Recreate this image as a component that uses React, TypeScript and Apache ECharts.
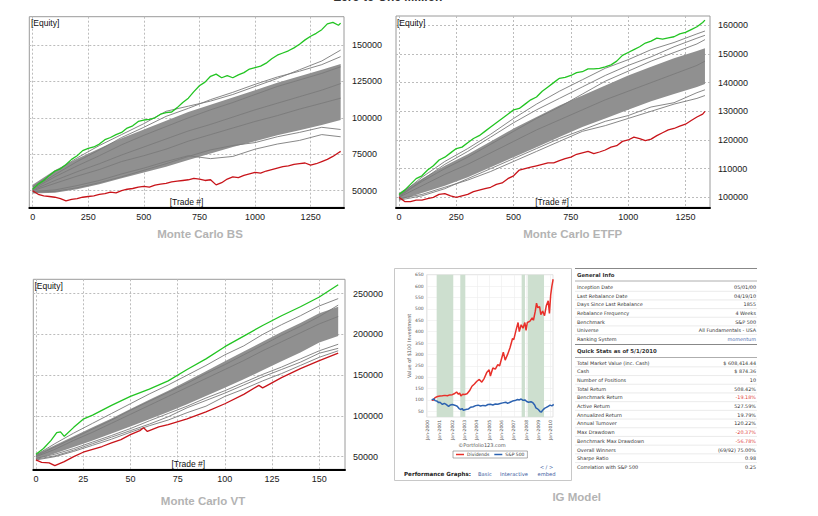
import React, { useEffect, useRef } from 'react';
import * as echarts from 'echarts';

// ---------------- text ----------------
const pageTitle = 'Zero to One Million';
const panelTitles = ['Monte Carlo BS', 'Monte Carlo ETFP', 'Monte Carlo VT', 'IG Model'];

// ---------------- Monte Carlo BS ----------------
const bsLineX = [0, 25, 50, 75, 100, 125, 150, 175, 200, 225, 250, 275, 300, 325, 350, 375, 400, 425, 450, 475, 500, 525, 550, 575, 600, 625, 650, 675, 700, 725, 750, 775, 800, 825, 850, 875, 900, 925, 950, 975, 1000, 1025, 1050, 1075, 1100, 1125, 1150, 1175, 1200, 1225, 1250, 1275, 1300, 1325, 1350, 1375, 1385];
const bsGreen = [51000, 54500, 57000, 60500, 63500, 65000, 68000, 71500, 74000, 77500,
  79000, 80000, 82000, 85000, 86500, 88500, 90000, 93000, 94500, 97500,
  98500, 99000, 100000, 102500, 103500, 104000, 107000, 110500, 113500, 118000,
  122000, 124500, 128500, 130000, 127500, 129000, 127500, 129500, 131000, 133500,
  134500, 135500, 137500, 140500, 143000, 144500, 146000, 148000, 150500, 153500,
  156000, 158000, 160500, 164500, 165500, 163500, 165000];
const bsRed = [50000, 47500, 46500, 46000, 45500, 44500, 43000, 44000, 44500, 45500,
  46000, 46500, 47500, 48000, 49000, 48500, 50000, 51000, 51500, 52500,
  53000, 52500, 53800, 54500, 55000, 56000, 56500, 57000, 57500, 58500,
  58000, 57000, 57500, 54000, 55500, 58000, 59500, 59000, 60500, 61500,
  62500, 62000, 63500, 64500, 65500, 66500, 67000, 68000, 68500, 69000,
  67500, 68500, 70000, 71500, 73500, 76000, 77000];
const bsBandX = [0, 100, 200, 300, 400, 500, 600, 700, 800, 900, 1000, 1100, 1200, 1300, 1385];
const bsHigh = [54000, 64000, 72000, 79000, 86000, 92000, 98000, 104000, 109000, 114000, 119000, 124000, 128500, 133000, 137000];
const bsLow = [48000, 48500, 51000, 54500, 58500, 62500, 66500, 71000, 75500, 80000, 84000, 88000, 91500, 95000, 98500];
const bsGray1 = [52500, 63000, 72500, 81000, 88500, 96000, 104500, 108000, 111500, 116000, 121500, 127000, 133000, 139000, 146500];
const bsGray2 = [51500, 61000, 70000, 78000, 86500, 93500, 101000, 106500, 112500, 117500, 123000, 128000, 132000, 136500, 142000];
const bsGray3 = [49500, 50500, 53500, 57000, 61500, 65500, 70000, 74000, 72000, 73500, 78500, 82000, 84500, 88500, 87000];
const bsGray4 = [49000, 49500, 52000, 55500, 59500, 64000, 68500, 73500, 78000, 81000, 83000, 87000, 90000, 93500, 92000];
const bsGray5 = [50500, 57000, 63000, 68500, 74500, 80000, 85500, 91000, 95500, 100500, 105500, 110000, 114500, 119000, 123500];
const bsGray6 = [50000, 55000, 60000, 64500, 70000, 74000, 78500, 84000, 88500, 93000, 97500, 101500, 106000, 110000, 113500];
const bsGray7 = [51000, 59500, 67000, 74000, 81500, 88000, 94000, 100000, 105500, 110500, 116000, 121500, 126000, 130500, 135000];

// ---------------- Monte Carlo ETFP ----------------
const etLineX = [0, 25, 50, 75, 100, 125, 150, 175, 200, 225, 250, 275, 300, 325, 350, 375, 400, 425, 450, 475, 500, 525, 550, 575, 600, 625, 650, 675, 700, 725, 750, 775, 800, 825, 850, 875, 900, 925, 950, 975, 1000, 1025, 1050, 1075, 1100, 1125, 1150, 1175, 1200, 1225, 1250, 1275, 1300, 1325, 1335];
const etGreen = [101000, 102500, 104500, 106500, 107500, 109500, 111000, 113000, 114000, 115500,
  117000, 117500, 119000, 120500, 121500, 123000, 124500, 126000, 127500, 129000,
  130500, 131000, 132500, 134000, 135000, 137000, 138500, 140000, 141500, 141800,
  142500, 143500, 143800, 144800, 144800, 145000, 145500, 146200, 147500, 149500,
  150500, 151500, 152500, 153800, 154500, 155500, 155200, 155600, 156000, 157000,
  157500, 158500, 159500, 161000, 161800];
const etRed = [100000, 98500, 98500, 99000, 99000, 99500, 100000, 101000, 101300, 100500,
  100000, 100500, 101000, 102000, 102500, 103000, 103500, 104500, 105000, 106500,
  107500, 109500, 110000, 110500, 111000, 111500, 112000, 112000, 112800, 113500,
  114000, 115000, 115500, 116000, 115200, 115800, 116500, 117500, 118000, 119500,
  120000, 121000, 120500, 119800, 120300, 121500, 122500, 123500, 124000, 124800,
  125500, 126800, 128000, 129000, 130000];
const etBandX = [0, 100, 200, 300, 400, 500, 600, 700, 800, 900, 1000, 1100, 1200, 1300, 1335];
const etHigh = [101500, 106500, 111000, 115000, 119500, 124000, 128000, 132000, 135500, 139000, 142500, 145500, 148500, 151000, 152000];
const etLow = [99000, 101500, 104000, 107000, 110500, 114000, 117500, 121000, 124500, 127500, 130500, 133500, 136000, 138500, 139500];
const etGray1 = [100500, 107000, 112500, 117000, 122000, 127500, 132500, 137000, 141000, 145000, 148000, 151500, 154000, 157000, 158000];
const etGray2 = [100000, 106000, 111500, 116000, 121000, 126000, 130500, 134500, 138500, 142500, 146000, 149000, 152500, 155500, 156500];
const etGray3 = [99500, 101000, 103500, 106000, 109000, 112500, 116000, 119500, 123000, 125000, 127500, 130000, 132500, 134500, 135500];
const etGray4 = [99000, 100500, 103000, 106500, 110000, 113500, 117000, 120500, 123500, 126500, 128500, 131500, 133000, 136500, 137500];
const etGray5 = [100000, 104000, 108000, 111500, 115500, 119500, 123500, 127000, 130500, 134000, 137000, 140000, 143000, 146000, 147500];
const etGray6 = [100500, 105500, 110000, 114000, 118500, 123000, 127500, 131500, 136000, 140500, 144000, 147500, 150500, 153500, 155000];

// ---------------- Monte Carlo VT ----------------
const vtGreenX = [0, 4, 8, 11, 13, 15, 20, 25, 30, 40, 50, 60, 70, 80, 90, 100, 110, 120, 130, 140, 150, 160];
const vtGreen = [53000, 60000, 70000, 79500, 80500, 75000, 86000, 96000, 101000, 113000, 124000, 133000, 143000, 157000, 170000, 185000, 198000, 211000, 223000, 234000, 246000, 261000];
const vtRedX = [0, 3, 7, 10, 15, 20, 25, 30, 35, 40, 45, 50, 55, 57, 59, 65, 70, 80, 90, 100, 110, 118, 120, 122, 130, 140, 150, 160];
const vtRed = [46000, 43000, 42500, 39000, 44000, 50000, 55500, 59000, 62500, 67000, 71000, 77000, 82000, 85500, 81000, 86500, 89500, 96500, 105000, 115000, 126500, 137500, 134500, 137000, 147000, 158000, 168000, 177000];
const vtBandX = [0, 10, 20, 30, 40, 50, 60, 70, 80, 90, 100, 110, 120, 130, 140, 150, 160];
const vtHigh = [53000, 64000, 75000, 86000, 97000, 108500, 120000, 131000, 143000, 155000, 167000, 179000, 191000, 203000, 214000, 226000, 234000];
const vtLow = [47000, 54000, 62000, 70000, 78500, 87000, 96000, 105000, 114500, 124500, 134500, 145000, 156000, 167000, 178000, 190000, 198000];
const vtGray1 = [52000, 66000, 79000, 91000, 103000, 115000, 127000, 138000, 150000, 162000, 175000, 186000, 200000, 212000, 223000, 235000, 244000];
const vtGray2 = [47000, 51000, 58000, 66000, 74000, 82000, 90000, 99000, 110000, 119000, 128000, 138000, 148000, 157000, 166000, 177000, 183000];
const vtGray3 = [50000, 59000, 70000, 80000, 91000, 102000, 113000, 124000, 135000, 146000, 157000, 168000, 180000, 191000, 202000, 213000, 222000];
const vtGray4 = [48000, 53000, 60000, 68000, 76000, 84500, 94000, 103000, 112000, 122000, 131000, 141000, 151000, 160000, 170000, 180000, 188000];
const vtGray5 = [51000, 62000, 73000, 84000, 95000, 107000, 118000, 129000, 140000, 152000, 163000, 175000, 187000, 199000, 210000, 222000, 236000];
const vtGray6 = [46000, 50000, 56500, 64000, 71500, 80000, 88000, 95000, 104000, 112000, 124000, 133000, 143000, 152000, 162000, 172000, 180000];

// ---------------- IG Model ----------------
const divYears = [2000.33, 2000.45, 2000.6, 2000.8, 2001.0, 2001.2, 2001.4, 2001.6, 2001.8, 2002.0, 2002.2, 2002.35, 2002.5, 2002.6, 2002.7, 2002.85, 2003.0, 2003.2, 2003.4, 2003.6, 2003.8, 2004.0, 2004.2, 2004.4, 2004.6, 2004.8, 2005.0, 2005.1, 2005.3, 2005.5, 2005.7, 2005.85, 2006.0, 2006.15, 2006.3, 2006.5, 2006.7, 2006.9, 2007.0, 2007.2, 2007.35, 2007.45, 2007.6, 2007.75, 2007.9, 2008.0, 2008.1, 2008.3, 2008.5, 2008.6, 2008.75, 2008.85, 2008.95, 2009.1, 2009.2, 2009.35, 2009.5, 2009.65, 2009.8, 2009.9, 2010.0, 2010.1, 2010.2];
const divValues = [100, 98, 110, 115, 117, 118, 120, 118, 122, 123, 128, 135, 125, 130, 118, 125, 124, 127, 140, 160, 170, 182, 190, 178, 195, 220, 232, 205, 240, 235, 255, 250, 280, 310, 275, 300, 330, 370, 365, 410, 440, 400, 430, 415, 440, 405, 440, 445, 460, 450, 490, 525, 505, 510, 475, 490, 470, 515, 535, 480, 560, 600, 630];
const spYears = [2000.33, 2000.5, 2000.6, 2000.75, 2000.9, 2001.0, 2001.2, 2001.35, 2001.5, 2001.7, 2001.85, 2002.0, 2002.2, 2002.4, 2002.55, 2002.7, 2002.8, 2002.9, 2003.1, 2003.3, 2003.5, 2003.7, 2003.9, 2004.1, 2004.3, 2004.5, 2004.7, 2004.9, 2005.1, 2005.3, 2005.5, 2005.7, 2005.9, 2006.1, 2006.35, 2006.5, 2006.7, 2006.9, 2007.1, 2007.3, 2007.45, 2007.6, 2007.75, 2007.9, 2008.05, 2008.2, 2008.4, 2008.55, 2008.7, 2008.8, 2008.9, 2009.0, 2009.15, 2009.25, 2009.35, 2009.5, 2009.65, 2009.8, 2009.95, 2010.1, 2010.25];
const spValues = [100, 105, 97, 95, 88, 90, 80, 85, 80, 72, 78, 80, 77, 72, 62, 58, 62, 55, 58, 60, 68, 70, 75, 77, 73, 76, 74, 80, 81, 78, 82, 81, 84, 87, 90, 85, 90, 95, 97, 102, 100, 104, 98, 100, 93, 90, 92, 88, 78, 65, 62, 58, 48, 47, 55, 63, 67, 72, 77, 74, 80];
const shadeStarts = [2000.73, 2002.65, 2007.64, 2008.13];
const shadeEnds = [2002.08, 2003.06, 2007.91, 2009.46];

const generalLabels = ['Inception Date', 'Last Rebalance Date', 'Days Since Last Rebalance', 'Rebalance Frequency', 'Benchmark', 'Universe', 'Ranking System'];
const generalValues = ['05/01/00', '04/19/10', '1855', '4 Weeks', 'S&P 500', 'All Fundamentals - USA', 'momentum'];
const quickLabels = ['Total Market Value (inc. Cash)', 'Cash', 'Number of Positions', 'Total Return', 'Benchmark Return', 'Active Return', 'Annualized Return', 'Annual Turnover', 'Max Drawdown', 'Benchmark Max Drawdown', 'Overall Winners', 'Sharpe Ratio', 'Correlation with S&P 500'];
const quickValues = ['$ 608,414.44', '$ 874.36', '10', '508.42%', '-19.18%', '527.59%', '19.79%', '120.22%', '-20.37%', '-56.78%', '(69/92) 75.00%', '0.98', '0.25'];

// ---------------- helpers ----------------
const ARIAL = 'Liberation Sans, Arial, sans-serif';
const VERD = 'DejaVu Sans, Verdana, sans-serif';
const zip = (xs: number[], ys: number[]) => xs.map((x, i) => [x, ys[i]]);
const plain = (v: number) => String(v);

function mcXAxis(gi: number, min: number, max: number, step: number) {
  return {
    type: 'value', gridIndex: gi, min, max, minInterval: step, maxInterval: step,
    axisLine: { show: true, onZero: false, lineStyle: { color: '#000', width: 2 } },
    axisTick: { show: false },
    axisLabel: { showMinLabel: false, showMaxLabel: false, fontSize: 9, color: '#1a1a1a', margin: 5, fontFamily: ARIAL, formatter: plain },
    splitLine: { show: true, showMinLine: false, showMaxLine: false, lineStyle: { color: '#bcbcbc', type: [2, 2], width: 1 } },
  };
}
function mcYAxis(gi: number, min: number, max: number, step: number) {
  return {
    type: 'value', gridIndex: gi, position: 'right', min, max, minInterval: step, maxInterval: step,
    axisLine: { show: false }, axisTick: { show: false },
    axisLabel: { showMinLabel: false, showMaxLabel: false, fontSize: 9, color: '#1a1a1a', margin: 8, fontFamily: ARIAL, formatter: plain },
    splitLine: { show: true, showMinLine: false, showMaxLine: false, lineStyle: { color: '#bcbcbc', type: [2, 2], width: 1 } },
  };
}
function mcSeries(gi: number, bandX: number[], low: number[], high: number[], grays: number[][], gX: number[], g: number[], rX: number[], r: number[]) {
  const s: any[] = [];
  const base = { type: 'line', xAxisIndex: gi, yAxisIndex: gi, symbol: 'none', silent: true };
  s.push({
    type: 'custom', xAxisIndex: gi, yAxisIndex: gi, silent: true, z: 2,
    data: zip(bandX, low),
    renderItem: (params: any, api: any) => {
      if (params.dataIndex !== 0) return null;
      const top = bandX.map((x, i) => api.coord([x, high[i]]));
      const bot = bandX.map((x, i) => api.coord([x, low[i]])).reverse();
      return { type: 'polygon', shape: { points: top.concat(bot) }, style: { fill: '#909090', stroke: 'none' } };
    },
  });
  grays.forEach((gv) => s.push({ ...base, data: zip(bandX, gv), lineStyle: { color: '#7b7b7b', width: 0.9 }, z: 3 }));
  s.push({ ...base, data: zip(gX, g), lineStyle: { color: '#22c422', width: 1.3 }, z: 4 });
  s.push({ ...base, data: zip(rX, r), lineStyle: { color: '#c8141a', width: 1.3 }, z: 4 });
  return s;
}

function txt(x: number, y: number, text: string, o: any = {}) {
  return {
    type: 'text', x, y, silent: true, z: 10,
    style: { text, fontSize: o.size || 8, fontFamily: o.font || ARIAL, fontWeight: o.weight || 'normal', fill: o.fill || '#222', align: o.align || 'left', verticalAlign: o.va || 'middle' },
  };
}
function hline(x1: number, x2: number, y: number, color: string, w = 1) {
  return { type: 'line', silent: true, z: 9, shape: { x1, y1: y, x2, y2: y }, style: { stroke: color, lineWidth: w } };
}

function buildGraphics() {
  const g: any[] = [];
  g.push(txt(388, 3.2, pageTitle, { size: 12, weight: 'bold', align: 'center', va: 'bottom', fill: '#333' }));
  // MC labels
  g.push(txt(31, 22.7, '[Equity]', { size: 8.5, fill: '#111' }));
  g.push(txt(186.5, 201.7, '[Trade #]', { size: 8.5, align: 'center', fill: '#111' }));
  g.push(txt(397, 22.7, '[Equity]', { size: 8.5, fill: '#111' }));
  g.push(txt(552, 201.7, '[Trade #]', { size: 8.5, align: 'center', fill: '#111' }));
  g.push(txt(34.5, 285.7, '[Equity]', { size: 8.5, fill: '#111' }));
  g.push(txt(188.3, 463.7, '[Trade #]', { size: 8.5, align: 'center', fill: '#111' }));
  // panel titles
  const tPos = [[200, 234], [572.7, 234], [203, 500.7], [576.7, 497.3]];
  panelTitles.forEach((t, i) => g.push(txt(tPos[i][0], tPos[i][1], t, { size: 11.5, weight: 'bold', align: 'center', fill: '#b3b3b3' })));
  // IG box
  g.push({ type: 'rect', silent: true, z: 0, shape: { x: 394.5, y: 268.5, width: 177, height: 212 }, style: { fill: 'none', stroke: '#c8c8c8', lineWidth: 1 } });
  g.push(txt(482, 444.7, '\u00a9Portfolio123.com', { size: 5, font: VERD, align: 'center', fill: '#555' }));
  g.push(txt(404, 474, 'Performance Graphs:', { size: 5.6, font: VERD, weight: 'bold', fill: '#222' }));
  g.push(txt(478, 474, 'Basic', { size: 5.2, font: VERD, fill: '#3a5ba0' }));
  g.push(txt(500, 474, 'Interactive', { size: 5.2, font: VERD, fill: '#3a5ba0' }));
  g.push(txt(546.5, 474, 'embed', { size: 5.2, font: VERD, align: 'center', fill: '#3a5ba0' }));
  g.push(txt(546.5, 467, '< / >', { size: 5.2, font: VERD, align: 'center', fill: '#3a5ba0' }));
  // table
  const L = 575, R = 757, tx = 577, vx = 756;
  g.push(hline(L, R, 268.5, '#888', 1));
  g.push(txt(tx, 274.5, 'General Info', { size: 5.4, font: VERD, weight: 'bold', fill: '#333' }));
  g.push(hline(L, R, 281, '#999', 0.8));
  generalLabels.forEach((lab, i) => {
    const y = 287 + i * 8.65;
    g.push(txt(tx, y, lab, { size: 4.9, font: VERD, fill: '#333' }));
    g.push(txt(vx, y, generalValues[i], { size: 4.9, font: VERD, align: 'right', fill: lab === 'Ranking System' ? '#4a6db0' : '#333' }));
    if (i < generalLabels.length - 1) g.push(hline(L, R, y + 4.3, '#e3e3e3', 0.7));
  });
  g.push(hline(L, R, 344.5, '#888', 1));
  g.push(txt(tx, 351, 'Quick Stats as of 5/1/2010', { size: 5.4, font: VERD, weight: 'bold', fill: '#333' }));
  g.push(hline(L, R, 357.5, '#999', 0.8));
  const redRows = ['Benchmark Return', 'Max Drawdown', 'Benchmark Max Drawdown'];
  quickLabels.forEach((lab, i) => {
    const y = 362.5 + i * 8.7;
    g.push(txt(tx, y, lab, { size: 4.9, font: VERD, fill: '#333' }));
    g.push(txt(vx, y, quickValues[i], { size: 4.9, font: VERD, align: 'right', fill: redRows.includes(lab) ? '#e0403a' : '#333' }));
    if (i < quickLabels.length - 1) g.push(hline(L, R, y + 4.35, '#e3e3e3', 0.7));
  });
  return g;
}

function buildOption() {
  const grids: any[] = [
    { left: 29.3, top: 16.7, width: 314.7, height: 190.6 },
    { left: 396, top: 16, width: 314, height: 191.3 },
    { left: 33.3, top: 279.3, width: 311.7, height: 190 },
  ].map((g) => ({ ...g, show: true, borderColor: '#9a9a9a', borderWidth: 1, backgroundColor: '#fff', containLabel: false }));
  grids.push({ left: 426.7, top: 274.7, width: 126.3, height: 142.3, show: true, borderColor: '#d0d0d0', borderWidth: 0.6, backgroundColor: '#fff', containLabel: false });

  const xAxis: any[] = [
    mcXAxis(0, -15, 1400, 250),
    mcXAxis(1, -13, 1357, 250),
    mcXAxis(2, -1.4, 163.6, 25),
    {
      type: 'value', gridIndex: 3, min: 1999.92, max: 2010.19, minInterval: 1, maxInterval: 1,
      axisLine: { show: false }, axisTick: { show: false },
      axisLabel: { showMinLabel: false, showMaxLabel: false, rotate: 90, fontSize: 4.5, color: '#555', margin: 3, fontFamily: VERD, formatter: (v: number) => 'Jan-' + Math.round(v) },
      splitLine: { show: true, showMinLine: false, showMaxLine: false, lineStyle: { color: '#ececec', width: 0.6 } },
    },
  ];
  const yAxis: any[] = [
    mcYAxis(0, 38600, 169400, 25000),
    mcYAxis(1, 96510, 163240, 10000),
    mcYAxis(2, 34540, 267700, 50000),
    {
      type: 'value', gridIndex: 3, position: 'left', min: 25, max: 650, minInterval: 50, maxInterval: 50,
      axisLine: { show: false }, axisTick: { show: false },
      axisLabel: { showMinLabel: false, showMaxLabel: true, fontSize: 4.5, color: '#555', margin: 3, fontFamily: VERD, formatter: plain },
      splitLine: { show: true, showMinLine: false, showMaxLine: false, lineStyle: { color: '#ececec', width: 0.6 } },
      name: 'Value of $100 Investment', nameLocation: 'middle', nameGap: 14, nameRotate: 90,
      nameTextStyle: { fontSize: 5, color: '#555', fontFamily: VERD },
    },
  ];

  const series: any[] = [
    ...mcSeries(0, bsBandX, bsLow, bsHigh, [bsGray1, bsGray2, bsGray3, bsGray4, bsGray5, bsGray6, bsGray7], bsLineX, bsGreen, bsLineX, bsRed),
    ...mcSeries(1, etBandX, etLow, etHigh, [etGray1, etGray2, etGray3, etGray4, etGray5, etGray6], etLineX, etGreen, etLineX, etRed),
    ...mcSeries(2, vtBandX, vtLow, vtHigh, [vtGray1, vtGray2, vtGray3, vtGray4, vtGray5, vtGray6], vtGreenX, vtGreen, vtRedX, vtRed),
    {
      name: 'Dividends', type: 'line', xAxisIndex: 3, yAxisIndex: 3, symbol: 'none', data: zip(divYears, divValues),
      lineStyle: { color: '#e8302a', width: 1.5 }, itemStyle: { color: '#e8302a' }, z: 4,
      markArea: { silent: true, itemStyle: { color: '#cddfcf' }, data: shadeStarts.map((s, i) => [{ xAxis: s }, { xAxis: shadeEnds[i] }]) },
    },
    {
      name: 'S&P 500', type: 'line', xAxisIndex: 3, yAxisIndex: 3, symbol: 'none', data: zip(spYears, spValues),
      lineStyle: { color: '#2c62b0', width: 1.5 }, itemStyle: { color: '#2c62b0' }, z: 4,
    },
  ];

  return {
    animation: false,
    backgroundColor: '#fff',
    grid: grids,
    xAxis, yAxis, series,
    legend: {
      data: ['Dividends', 'S&P 500'], left: 453, top: 451, icon: 'rect', itemWidth: 8, itemHeight: 1.5, itemGap: 5,
      padding: [1, 3], borderColor: '#777', borderWidth: 0.6, selectedMode: false,
      textStyle: { fontSize: 4.5, color: '#333', fontFamily: VERD, padding: [0, 0, 0, -2] },
    },
    graphic: buildGraphics(),
  };
}

export default function App() {
  const ref = useRef<HTMLDivElement>(null);
  useEffect(() => {
    document.body.style.margin = '0';
    const chart = echarts.init(ref.current!, null, { renderer: 'svg' });
    chart.setOption(buildOption() as any);
    return () => chart.dispose();
  }, []);
  return <div ref={ref} style={{ position: 'absolute', left: 0, top: 0, width: 818, height: 516, background: '#fff' }} />;
}
